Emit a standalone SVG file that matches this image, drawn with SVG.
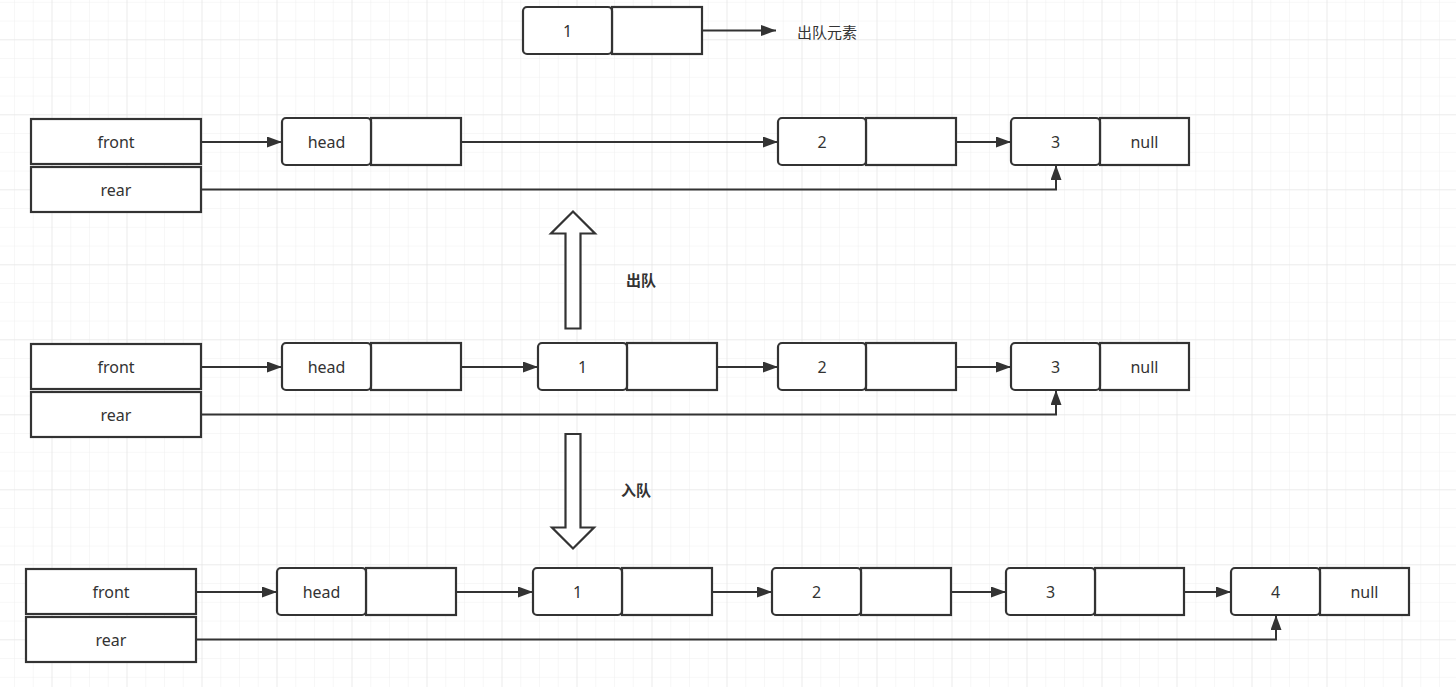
<svg xmlns="http://www.w3.org/2000/svg" width="1456" height="687" viewBox="0 0 1456 687">
<defs>
<pattern id="minor" patternUnits="userSpaceOnUse" x="-3.75" y="2.8" width="18.75" height="18.75">
<path d="M18.75 0 V18.75 M0 18.75 H18.75" fill="none" stroke="#efefef" stroke-width="1"/>
</pattern>
<pattern id="major" patternUnits="userSpaceOnUse" x="-22.5" y="-34.7" width="75" height="75">
<path d="M75 0 V75 M0 75 H75" fill="none" stroke="#e2e2e2" stroke-width="1"/>
</pattern>
<marker id="ah" markerUnits="userSpaceOnUse" markerWidth="16" markerHeight="12" refX="15" refY="5.5" orient="auto">
<path d="M0 0 L15 5.5 L0 11 Z" fill="#333"/>
</marker>
<style>
.c{fill:#fff;stroke:#333;stroke-width:2.2}
.t{font-family:"Noto Sans","Liberation Sans",Arial,sans-serif;font-size:16px;fill:#333;text-anchor:middle;dominant-baseline:central}
.z{font-family:"Noto Sans CJK SC","Liberation Sans",sans-serif;font-size:15px;fill:#333;text-anchor:middle;dominant-baseline:central}
.e{fill:none;stroke:#333;stroke-width:2}
.ba{fill:#fff;stroke:#333;stroke-width:2.2;stroke-linejoin:miter}
</style>
</defs>
<rect width="1456" height="687" fill="#fff"/>
<rect width="1456" height="687" fill="url(#minor)"/>
<rect width="1456" height="687" fill="url(#major)"/>

<!-- top dequeued node -->
<g id="out1">
<rect class="c" x="612" y="7" width="90" height="47"/>
<rect class="c" x="523" y="7" width="89" height="47" rx="4"/>
<text class="t" x="567.5" y="31">1</text>
</g>
<text id="lbl-out" class="z" x="827" y="31">出队元素</text>

<!-- Row 1 -->
<g id="r1-front"><rect class="c" x="31" y="119" width="170" height="45"/><text class="t" x="116" y="142">front</text></g>
<g id="r1-rear"><rect class="c" x="31" y="167" width="170" height="45"/><text class="t" x="116" y="190">rear</text></g>
<g id="r1-head"><rect class="c" x="371" y="118" width="90" height="47"/><rect class="c" x="282" y="118" width="89" height="47" rx="4"/><text class="t" x="326.5" y="142">head</text></g>
<g id="r1-n2"><rect class="c" x="866" y="118" width="90" height="47"/><rect class="c" x="778" y="118" width="88" height="47" rx="4"/><text class="t" x="822" y="142">2</text></g>
<g id="r1-n3"><rect class="c" x="1100" y="118" width="89" height="47"/><rect class="c" x="1011" y="118" width="89" height="47" rx="4"/><text class="t" x="1055.5" y="142">3</text><text class="t" x="1144.5" y="142">null</text></g>

<!-- Row 2 -->
<g id="r2-front"><rect class="c" x="31" y="344" width="170" height="45"/><text class="t" x="116" y="367">front</text></g>
<g id="r2-rear"><rect class="c" x="31" y="392" width="170" height="45"/><text class="t" x="116" y="415">rear</text></g>
<g id="r2-head"><rect class="c" x="371" y="343" width="90" height="47"/><rect class="c" x="282" y="343" width="89" height="47" rx="4"/><text class="t" x="326.5" y="367">head</text></g>
<g id="r2-n1"><rect class="c" x="627" y="343" width="90" height="47"/><rect class="c" x="538" y="343" width="89" height="47" rx="4"/><text class="t" x="582.5" y="367">1</text></g>
<g id="r2-n2"><rect class="c" x="866" y="343" width="90" height="47"/><rect class="c" x="778" y="343" width="88" height="47" rx="4"/><text class="t" x="822" y="367">2</text></g>
<g id="r2-n3"><rect class="c" x="1100" y="343" width="89" height="47"/><rect class="c" x="1011" y="343" width="89" height="47" rx="4"/><text class="t" x="1055.5" y="367">3</text><text class="t" x="1144.5" y="367">null</text></g>

<!-- Row 3 -->
<g id="r3-front"><rect class="c" x="26" y="569" width="170" height="45"/><text class="t" x="111" y="592">front</text></g>
<g id="r3-rear"><rect class="c" x="26" y="617" width="170" height="45"/><text class="t" x="111" y="640">rear</text></g>
<g id="r3-head"><rect class="c" x="366" y="568" width="90" height="47"/><rect class="c" x="277" y="568" width="89" height="47" rx="4"/><text class="t" x="321.5" y="592">head</text></g>
<g id="r3-n1"><rect class="c" x="622" y="568" width="90" height="47"/><rect class="c" x="533" y="568" width="89" height="47" rx="4"/><text class="t" x="577.5" y="592">1</text></g>
<g id="r3-n2"><rect class="c" x="861" y="568" width="90" height="47"/><rect class="c" x="772" y="568" width="89" height="47" rx="4"/><text class="t" x="816.5" y="592">2</text></g>
<g id="r3-n3"><rect class="c" x="1095" y="568" width="89" height="47"/><rect class="c" x="1006" y="568" width="89" height="47" rx="4"/><text class="t" x="1050.5" y="592">3</text></g>
<g id="r3-n4"><rect class="c" x="1320" y="568" width="89" height="47"/><rect class="c" x="1231" y="568" width="89" height="47" rx="4"/><text class="t" x="1275.5" y="592">4</text><text class="t" x="1364.5" y="592">null</text></g>

<!-- block arrows -->
<g id="arrow-dequeue">
<path class="ba" d="M565.5 328.5 V233.5 H551 L573 211.5 L595 233.5 H580.5 V328.5 Z"/>
<text class="z" x="641" y="279" font-weight="bold">出队</text>
</g>
<g id="arrow-enqueue">
<path class="ba" d="M565.5 434 V527.5 H552 L573 548.5 L594 527.5 H580.5 V434 Z"/>
<text class="z" x="636" y="489" font-weight="bold">入队</text>
</g>

<!-- connectors -->
<g id="connectors">
<path class="e" marker-end="url(#ah)" d="M702 30.5 H776"/>
<path class="e" marker-end="url(#ah)" d="M201 142 H282"/>
<path class="e" marker-end="url(#ah)" d="M461 142 H778"/>
<path class="e" marker-end="url(#ah)" d="M956 142 H1011"/>
<path class="e" marker-end="url(#ah)" d="M201 189.5 H1056 V165"/>
<path class="e" marker-end="url(#ah)" d="M201 367 H282"/>
<path class="e" marker-end="url(#ah)" d="M461 367 H538"/>
<path class="e" marker-end="url(#ah)" d="M717 367 H778"/>
<path class="e" marker-end="url(#ah)" d="M956 367 H1011"/>
<path class="e" marker-end="url(#ah)" d="M201 414.5 H1056 V390"/>
<path class="e" marker-end="url(#ah)" d="M196 592 H277"/>
<path class="e" marker-end="url(#ah)" d="M456 592 H533"/>
<path class="e" marker-end="url(#ah)" d="M712 592 H772"/>
<path class="e" marker-end="url(#ah)" d="M951 592 H1006"/>
<path class="e" marker-end="url(#ah)" d="M1184 592 H1231"/>
<path class="e" marker-end="url(#ah)" d="M196 639.5 H1276 V615"/>
</g>
</svg>
